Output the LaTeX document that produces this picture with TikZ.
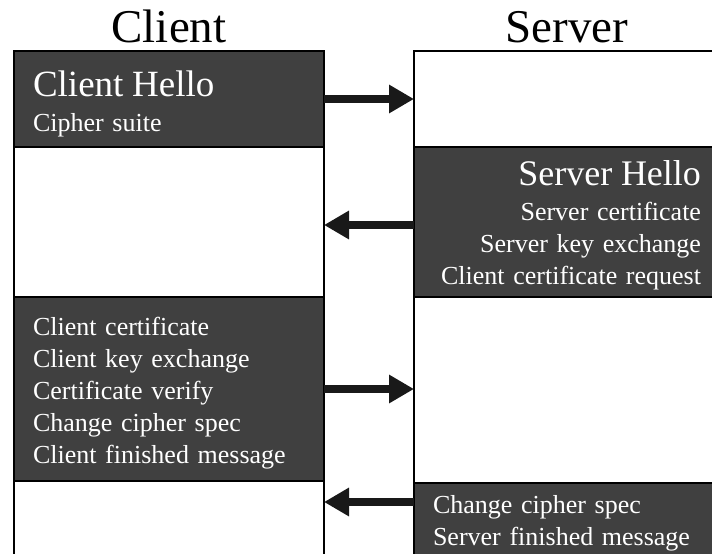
\documentclass[tikz,border=0pt]{standalone}
\usepackage{fontspec}
\setmainfont{Liberation Serif}
\usetikzlibrary{positioning,arrows.meta}

\begin{document}
\begin{tikzpicture}[x=1pt,y=-1pt,
  box/.style={draw=black, line width=1.6pt, inner xsep=19pt, inner ysep=0pt, outer sep=0pt,
              font=\fontsize{26}{32}\selectfont},
  msg/.style={box, fill=black!75, text=white},
  idle/.style={box, fill=white},
  cside/.style={text width=272pt},
  sside/.style={text width=268pt},
  head/.style={inner sep=0pt, font=\fontsize{47}{50}\selectfont},
  flow/.style={line width=8pt, draw=black!90, -{Triangle[width=27pt,length=25pt]}}]

  \useasboundingbox (0,0) rectangle (712,554);

  % Client
  \node[msg, cside, align=left, minimum height=96pt, anchor=north west] at (14,51) (chello)
       {\rule{0pt}{35pt}{\fontsize{37}{38}\selectfont Client Hello}\\[3pt] Cipher suite}; %
  \node[idle, cside, minimum height=150pt, below=0pt of chello] (cwait1) {}; %
  \node[msg, cside, align=left, minimum height=184pt, below=0pt of cwait1] (ckex)
       {\rule{0pt}{26pt}Client certificate\\ Client key exchange\\ Certificate verify\\
        Change cipher spec\\ Client finished message}; %
  \node[idle, cside, minimum height=82pt, below=0pt of ckex] (cwait2) {}; %

  % Server
  \node[idle, sside, minimum height=96pt, anchor=north west] at (414,51) (swait1) {}; %
  \node[msg, sside, align=right, minimum height=150pt, below=0pt of swait1] (shello)
       {\rule{0pt}{31pt}{\fontsize{36}{38}\selectfont Server Hello}\\[3pt] Server certificate\\
        Server key exchange\\ Client certificate request}; %
  \node[idle, sside, minimum height=186pt, below=0pt of shello] (swait2) {}; %
  \node[msg, sside, align=left, minimum height=80pt, below=0pt of swait2] (sfin)
       {Change cipher spec\\ Server finished message}; %

  % Titles
  \node[head, above=8pt of chello] (client) {Client}; %
  \node[head, above=8pt of swait1] (server) {Server}; %

  % Messages
  \draw[flow] (chello.east) -- (chello.east -| swait1.west) ; %
  \coordinate (hello) at ([yshift=-3pt]shello.west) ; %
  \draw[flow] (hello) -- (hello -| cwait1.east) ; %
  \draw[flow] (ckex.east) -- (ckex.east -| swait2.west) ; %
  \coordinate (fin) at ([yshift=-19pt]sfin.north west) ; %
  \draw[flow] (fin) -- (fin -| cwait2.east) ; %

\end{tikzpicture}
\end{document}
